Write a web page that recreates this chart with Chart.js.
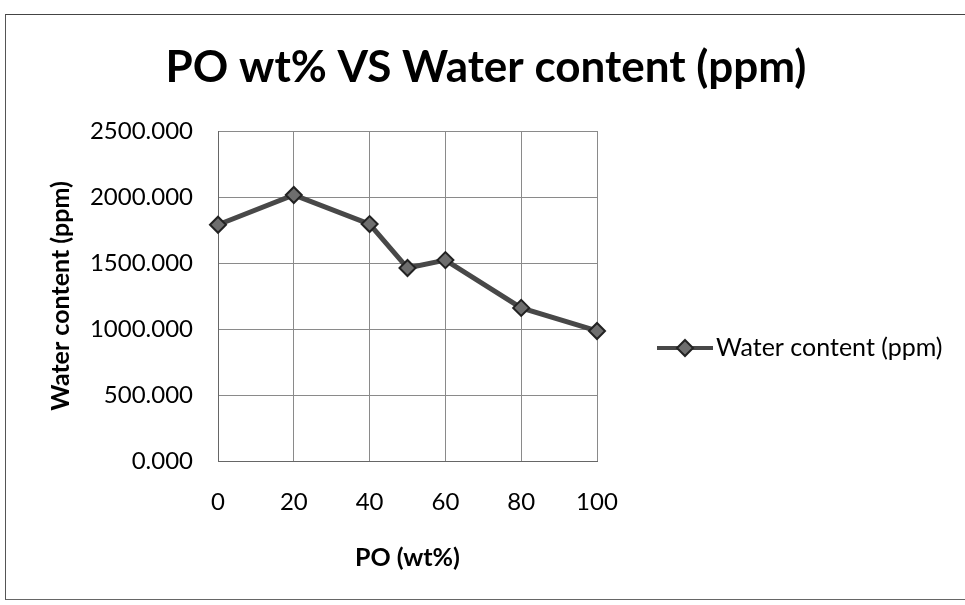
<!DOCTYPE html>
<html lang="en">
<head>
    <meta charset="UTF-8">
    <title>PO wt% VS Water content (ppm)</title>
    <script src="https://cdn.jsdelivr.net/npm/chart.js"></script>
    <style>
        html, body {
            margin: 0;
            padding: 0;
            background: #fff;
        }
        #frame {
            position: absolute;
            left: 5px;
            top: 14px;
            width: 962px;
            height: 584px;
            border-left: 1px solid #555;
            border-top: 1px solid #444;
            border-bottom: 1px solid #666;
        }
        #grafica-container {
            position: absolute;
            left: 0;
            top: 0;
            width: 965px;
            height: 605px;
        }
    </style>
</head>
<body>
    <div id="frame"></div>
    <div id="grafica-container">
        <canvas id="graficaAgua" width="965" height="605"></canvas>
    </div>

    <script>
        // PO content (wt%) and measured water content (ppm)
        const poWt = [0, 20, 40, 50, 60, 80, 100];
        const waterPpm = [1790, 2015, 1795, 1462, 1522, 1160, 985];
        const xTicks = [0, 20, 40, 60, 80, 100];
        const yTicks = [0, 500, 1000, 1500, 2000, 2500];

        const chartTitle = 'PO wt% VS Water content (ppm)';
        const seriesName = 'Water content (ppm)';
        const xTitle = 'PO (wt%)';
        const yTitle = 'Water content (ppm)';

        const fuente = 'Lato, "Open Sans", sans-serif';

        // title centred over the whole frame (not only the plot) and the
        // Excel-like legend: short line with a diamond in the middle
        const tituloYLeyenda = {
            id: 'tituloYLeyenda',
            afterDraw(chart) {
                const ds = chart.data.datasets[0];
                const ctx = chart.ctx;
                ctx.save();
                ctx.fillStyle = '#000';
                ctx.font = 'bold 44px ' + fuente;
                ctx.textAlign = 'center';
                ctx.textBaseline = 'middle';
                ctx.fillText(chartTitle, 486, 68);

                const y = 348;
                ctx.strokeStyle = ds.borderColor;
                ctx.lineWidth = 4;
                ctx.beginPath();
                ctx.moveTo(657, y);
                ctx.lineTo(713, y);
                ctx.stroke();
                ctx.beginPath();
                ctx.moveTo(685, y - 8);
                ctx.lineTo(693, y);
                ctx.lineTo(685, y + 8);
                ctx.lineTo(677, y);
                ctx.closePath();
                ctx.fillStyle = ds.pointBackgroundColor;
                ctx.fill();
                ctx.lineWidth = 2;
                ctx.strokeStyle = ds.pointBorderColor;
                ctx.stroke();
                ctx.fillStyle = '#000';
                ctx.font = '25px ' + fuente;
                ctx.textAlign = 'left';
                ctx.fillText(ds.label, 716, y);
                ctx.restore();
            }
        };

        const ctx = document.getElementById('graficaAgua').getContext('2d');

        new Chart(ctx, {
            type: 'line',
            data: {
                datasets: [{
                    label: seriesName,
                    data: poWt.map((x, i) => ({ x: x, y: waterPpm[i] })),
                    borderColor: '#484848',
                    borderWidth: 5,
                    pointStyle: 'rectRot',
                    pointRadius: 8,
                    pointHoverRadius: 8,
                    pointBackgroundColor: '#6e6e6e',
                    pointBorderColor: '#222',
                    pointBorderWidth: 2,
                    tension: 0,
                    clip: false
                }]
            },
            options: {
                responsive: false,
                animation: false,
                layout: {
                    padding: { left: 0, right: 368, top: 131, bottom: 0 }
                },
                scales: {
                    x: {
                        type: 'linear',
                        min: 0,
                        max: 100,
                        afterBuildTicks: s => { s.ticks = xTicks.map(v => ({ value: v })); },
                        afterFit: s => { s.height = 144; },
                        grid: { color: '#8a8a8a', lineWidth: 1, drawTicks: false },
                        border: { color: '#666', width: 1 },
                        ticks: {
                            padding: 27,
                            color: '#000',
                            font: { family: fuente, size: 24 }
                        },
                        title: {
                            display: true,
                            text: xTitle,
                            color: '#000',
                            font: { family: fuente, size: 25, weight: 'bold' },
                            padding: { top: 20, bottom: 32 }
                        }
                    },
                    y: {
                        min: 0,
                        max: 2500,
                        afterBuildTicks: s => { s.ticks = yTicks.map(v => ({ value: v })); },
                        afterFit: s => { s.width = 218; },
                        grid: { color: '#8a8a8a', lineWidth: 1, drawTicks: false },
                        border: { color: '#666', width: 1 },
                        ticks: {
                            padding: 25,
                            color: '#000',
                            font: { family: fuente, size: 24 },
                            callback: v => Number(v).toFixed(3)
                        },
                        title: {
                            display: true,
                            text: yTitle,
                            color: '#000',
                            font: { family: fuente, size: 25, weight: 'bold' },
                            padding: { top: 46, bottom: 10 }
                        }
                    }
                },
                plugins: {
                    legend: { display: false },
                    tooltip: { enabled: false },
                    title: { display: false }
                }
            },
            plugins: [tituloYLeyenda]
        });
    </script>
</body>
</html>
